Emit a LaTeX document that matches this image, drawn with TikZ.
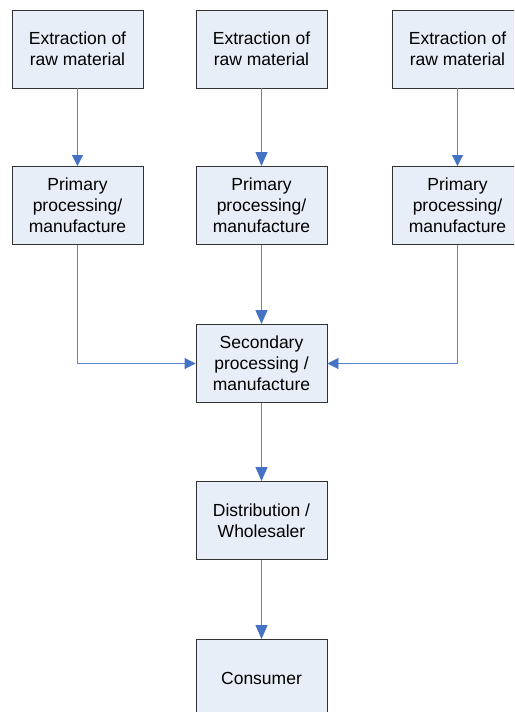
\documentclass[tikz,border=0pt]{standalone}
\usepackage{fontspec}
\setmainfont{Liberation Sans}
\usetikzlibrary{arrows.meta}
\definecolor{boxfill}{RGB}{232,238,248}
\definecolor{boxline}{RGB}{50,50,50}
\definecolor{conline}{RGB}{92,132,202}
\definecolor{tipcol}{RGB}{68,114,196}
\tikzset{
  stagebox/.style={draw=boxline, fill=boxfill, line width=0.9pt, minimum width=131pt, minimum height=78pt, inner sep=0pt, align=center, font=\fontsize{17.5}{21}\selectfont},
  flow/.style={draw=conline, line width=0.9pt, -{Triangle[length=11pt,width=11pt,color=tipcol,fill=tipcol]}},
  bigflow/.style={flow, -{Triangle[length=14pt,width=12pt,color=tipcol,fill=tipcol]}}
}
\begin{document}
\begin{tikzpicture}[x=1pt,y=-1pt]
\useasboundingbox (0,0) rectangle (514,712);
\clip (0,0) rectangle (514,712);
\fill[white] (0,0) rectangle (514,712);
\node[stagebox] (e1) at (77.5,49) {Extraction of\\raw material};
\node[stagebox] (e2) at (261.5,49) {Extraction of\\raw material};
\node[stagebox] (e3) at (457.5,49) {Extraction of\\raw material};
\node[stagebox] (p1) at (77.5,205.5) {Primary\\processing/\\manufacture};
\node[stagebox] (p2) at (261.5,205.5) {Primary\\processing/\\manufacture};
\node[stagebox] (p3) at (457.5,205.5) {Primary\\processing/\\manufacture};
\node[stagebox] (s) at (261.5,363.5) {Secondary\\processing /\\manufacture};
\node[stagebox] (d) at (261.5,520.5) {Distribution /\\Wholesaler};
\node[stagebox] (c) at (261.5,678.5) {Consumer};
\draw[flow] (e1) -- (p1);
\draw[bigflow] (e2) -- (p2);
\draw[flow] (e3) -- (p3);
\draw[bigflow] (p2) -- (s);
\draw[flow] (p1.south) |- (s.west);
\draw[flow] (p3.south) |- (s.east);
\draw[bigflow] (s) -- (d);
\draw[bigflow] (d) -- (c);
\end{tikzpicture}
\end{document}
